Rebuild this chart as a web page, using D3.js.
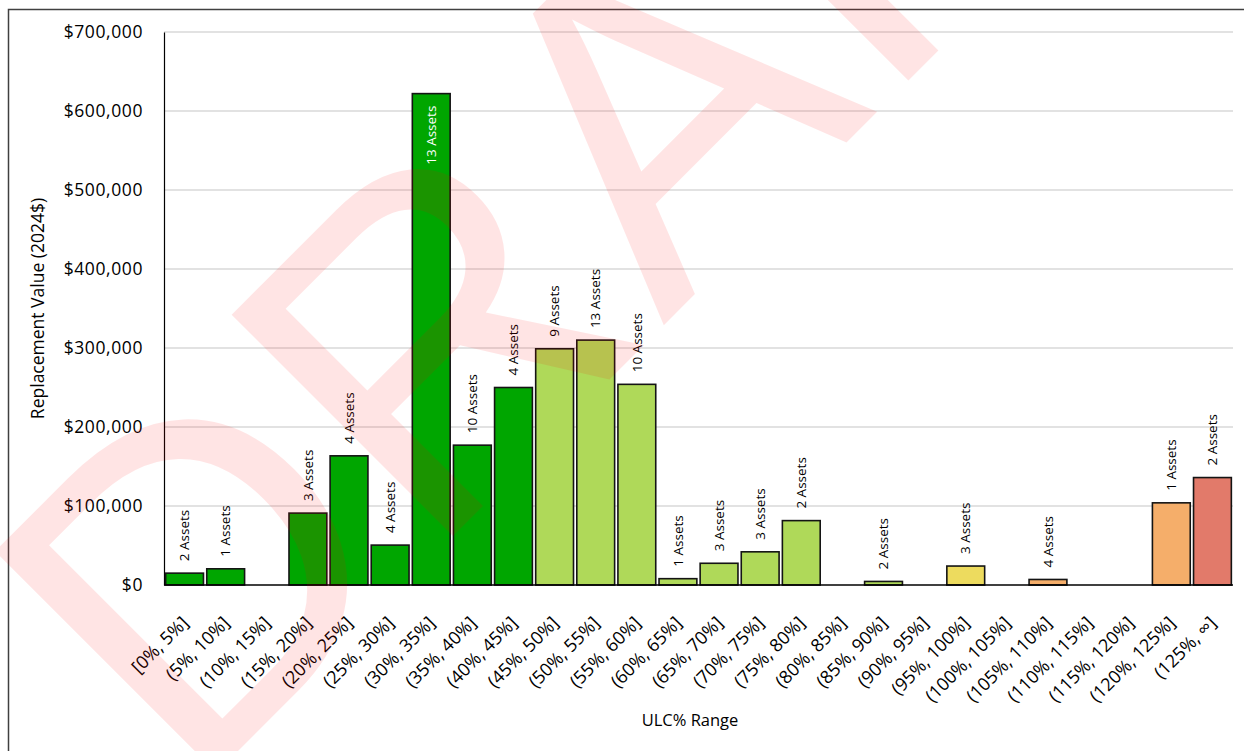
<!DOCTYPE html>
<html>
<head>
<meta charset="utf-8">
<script src="https://cdn.jsdelivr.net/npm/d3@7"></script>
<style>
  html, body { margin: 0; padding: 0; background: #fff; }
  svg { display: block; }
  text { font-family: "Open Sans", "Noto Sans", "Liberation Sans", sans-serif; }
</style>
</head>
<body>
<svg id="chart" width="1244" height="751"></svg>
<script>
// ULC% bins
const categories = [
  "[0%, 5%]", "(5%, 10%]", "(10%, 15%]", "(15%, 20%]", "(20%, 25%]", "(25%, 30%]",
  "(30%, 35%]", "(35%, 40%]", "(40%, 45%]", "(45%, 50%]", "(50%, 55%]", "(55%, 60%]",
  "(60%, 65%]", "(65%, 70%]", "(70%, 75%]", "(75%, 80%]", "(80%, 85%]", "(85%, 90%]",
  "(90%, 95%]", "(95%, 100%]", "(100%, 105%]", "(105%, 110%]", "(110%, 115%]",
  "(115%, 120%]", "(120%, 125%]", "(125%, ∞]"
];
// Replacement value per bin (2024$)
const values = [
  15000, 20500, 0, 91000, 163500, 50500,
  622000, 177000, 250000, 299000, 310000, 254000,
  8000, 27500, 42000, 81500, 0, 4500,
  0, 24000, 0, 7000, 0,
  0, 104000, 136000
];
// Number of assets per bin
const assetCounts = [
  2, 1, 0, 3, 4, 4,
  13, 10, 4, 9, 13, 10,
  1, 3, 3, 2, 0, 2,
  0, 3, 0, 4, 0,
  0, 1, 2
];
const yTicks = [0, 100000, 200000, 300000, 400000, 500000, 600000, 700000];

// Lower bound (%) of each bin, used for the condition colour bands
const binStart = categories.map((_, i) => i * 5);
const bandColor = d3.scaleThreshold()
  .domain([45, 90, 100, 125])
  .range(["#00a600", "#afd959", "#eddb5e", "#f5ae6a", "#e27a6a"]);

const svg = d3.select("#chart");
const W = 1244, H = 751;
const plot = { left: 164, right: 1233, top: 32, bottom: 585 };

// outer frame
svg.append("rect")
  .attr("x", 8.5).attr("y", 9.5)
  .attr("width", W).attr("height", H)
  .attr("fill", "none").attr("stroke", "#404040").attr("stroke-width", 1.5);

const x = d3.scaleBand()
  .domain(categories)
  .range([plot.left, plot.right])
  .paddingInner(0.08)
  .paddingOuter(0.04);

const y = d3.scaleLinear()
  .domain([0, 700000])
  .range([plot.bottom, plot.top]);

// gridlines
svg.append("g")
  .selectAll("line")
  .data(yTicks.filter(d => d > 0))
  .join("line")
  .attr("x1", plot.left).attr("x2", plot.right)
  .attr("y1", d => y(d)).attr("y2", d => y(d))
  .attr("stroke", "#d9d9d9").attr("stroke-width", 1.3);

// y axis
const yAxis = d3.axisLeft(y)
  .tickValues(yTicks)
  .tickFormat(d3.format("$,.0f"))
  .tickSize(0)
  .tickPadding(21);
const gy = svg.append("g")
  .attr("transform", `translate(${plot.left},0)`)
  .call(yAxis);
gy.attr("font-family", null);
gy.select(".domain").attr("stroke", "#000").attr("stroke-width", 1.2);
gy.selectAll(".tick text")
  .attr("font-size", 17.5)
  .attr("letter-spacing", "0.6px")
  .style("fill", "#000");

// bars
const idx = d3.range(categories.length).filter(i => values[i] > 0);
svg.append("g")
  .selectAll("rect")
  .data(idx)
  .join("rect")
  .attr("x", i => x(categories[i]))
  .attr("width", x.bandwidth())
  .attr("y", i => y(values[i]))
  .attr("height", i => y(0) - y(values[i]))
  .attr("fill", i => bandColor(binStart[i]))
  .attr("stroke", "#141414")
  .attr("stroke-width", 1.6);

// x axis
const xAxis = d3.axisBottom(x).tickSize(0).tickPadding(0);
const gx = svg.append("g")
  .attr("transform", `translate(0,${plot.bottom})`)
  .call(xAxis);
gx.attr("font-family", null);
gx.select(".domain")
  .attr("d", `M${plot.left},0H${plot.right}`)
  .attr("stroke", "#000").attr("stroke-width", 1.6);
gx.selectAll(".tick text")
  .attr("font-size", 18)
  .style("fill", "#000")
  .attr("text-anchor", "end")
  .attr("dy", null)
  .attr("y", 0)
  .attr("transform", "translate(5,39) rotate(-45)");

// asset count labels
const labelSize = 13.5;
const gl = svg.append("g");
idx.forEach(i => {
  const cx = x(categories[i]) + x.bandwidth() / 2;
  const top = y(values[i]);
  const txt = `${assetCounts[i]} Assets`;
  const t = gl.append("text")
    .attr("font-size", labelSize)
    .attr("dy", "0.35em")
    .style("fill", "#000")
    .text(txt);
  const len = t.node().getComputedTextLength();
  const inside = top - 12 - len < plot.top + 10;
  if (inside) {
    t.attr("text-anchor", "end")
      .style("fill", "#ffffff")
      .attr("transform", `translate(${cx},${top + 12}) rotate(-90)`);
  } else {
    t.attr("text-anchor", "start")
      .attr("transform", `translate(${cx},${top - 12}) rotate(-90)`);
  }
});

// axis titles
svg.append("text")
  .attr("transform", `translate(44,${(plot.top + plot.bottom) / 2}) rotate(-90)`)
  .attr("text-anchor", "middle")
  .attr("font-size", 17.5)
  .style("fill", "#000")
  .text("Replacement Value (2024$)");

svg.append("text")
  .attr("x", 690).attr("y", 726)
  .attr("text-anchor", "middle")
  .attr("font-size", 16.5)
  .style("fill", "#000")
  .text("ULC% Range");

// DRAFT watermark over the whole chart
svg.append("text")
  .attr("transform", "translate(190,799) rotate(-45)")
  .style("font-family", "'Liberation Sans', Arial, sans-serif")
  .attr("font-size", 455)
  .attr("letter-spacing", "6px")
  .style("fill", "#ff0000")
  .style("fill-opacity", 0.105)
  .text("DRAFT");
</script>
</body>
</html>
